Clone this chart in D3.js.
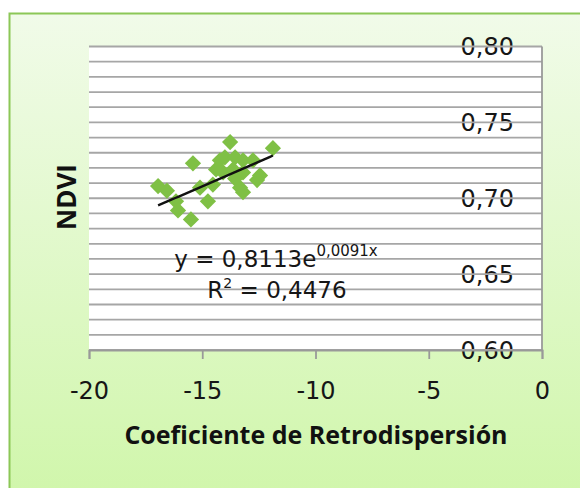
<!DOCTYPE html>
<html>
<head>
<meta charset="utf-8">
<script src="https://cdn.jsdelivr.net/npm/d3@7"></script>
<style>
  html, body { margin: 0; padding: 0; background: #fff; }
  svg { display: block; }
</style>
</head>
<body>
<svg id="chart" width="580" height="488"></svg>
<script>
// backscatter coefficient (dB) vs NDVI
const retro = [-16.95, -16.56, -16.16, -16.07, -15.50, -15.41, -15.10, -14.75, -14.53, -14.39,
  -14.22, -14.00, -13.77, -13.55, -13.20, -12.76, -14.08, -13.64, -13.20, -13.33,
  -13.20, -12.45, -12.58, -11.88, -13.55];
const ndvi = [0.708, 0.705, 0.698, 0.692, 0.686, 0.723, 0.707, 0.698, 0.709, 0.719,
  0.725, 0.727, 0.737, 0.727, 0.725, 0.725, 0.717, 0.719, 0.717, 0.707,
  0.704, 0.715, 0.712, 0.733, 0.713];
const xTicks = [-20, -15, -10, -5, 0];
const yTicks = [0.60, 0.65, 0.70, 0.75, 0.80];
// exponential trendline y = a * e^(b x)
const trendA = 0.8113;
const trendB = 0.0091;
const r2 = '0,4476';

const svg = d3.select('#chart');
const margin = { left: 89, right: 38, top: 46.5, bottom: 138 };
const W = 580, H = 488;
const font = 'DejaVu Sans, sans-serif';

// background frame
const defs = svg.append('defs');
const grad = defs.append('linearGradient').attr('id', 'bg').attr('x1', 0).attr('y1', 0).attr('x2', 0).attr('y2', 1);
grad.append('stop').attr('offset', '0%').attr('stop-color', '#f1fbe9');
grad.append('stop').attr('offset', '100%').attr('stop-color', '#cff6a9');
svg.append('rect')
  .attr('x', 9.5).attr('y', 13.5).attr('width', 600).attr('height', 500)
  .attr('fill', 'url(#bg)')
  .attr('stroke', '#8cc757').attr('stroke-width', 2);

const x = d3.scaleLinear().domain([-20, 0]).range([margin.left, W - margin.right]);
const y = d3.scaleLinear().domain([0.6, 0.8]).range([H - margin.bottom, margin.top]);

// plot area
svg.append('rect')
  .attr('x', x(-20)).attr('y', y(0.8))
  .attr('width', x(0) - x(-20)).attr('height', y(0.6) - y(0.8))
  .attr('fill', '#fff');

// y labels sit on the gridlines, lines run across them
const yLabels = svg.append('g').attr('class', 'axis axis--y');
yLabels.selectAll('text')
  .data(yTicks)
  .enter().append('text')
  .attr('x', x(0) - 28)
  .attr('y', d => y(d))
  .attr('dy', '0.36em')
  .attr('text-anchor', 'end')
  .style('font-family', font)
  .style('font-size', '24px')
  .attr('fill', '#161616')
  .text(d => d3.format('.2f')(d).replace('.', ','));

// minor gridlines every 0.01
const grid = d3.range(60, 81).map(v => v / 100);
svg.append('g').selectAll('line')
  .data(grid)
  .enter().append('line')
  .attr('x1', x(-20)).attr('x2', x(0))
  .attr('y1', d => y(d)).attr('y2', d => y(d))
  .attr('stroke', '#a6a6a6')
  .attr('stroke-width', 1.8);

// x axis
const xAxis = svg.append('g')
  .attr('class', 'axis axis--x')
  .attr('transform', `translate(0,${y(0.6)})`)
  .call(d3.axisBottom(x).tickValues(xTicks).tickSize(9).tickPadding(23).tickFormat(d3.format('d')));
xAxis.select('.domain').attr('stroke', '#999').attr('stroke-width', 1.8);
xAxis.selectAll('.tick line').attr('stroke', '#999').attr('stroke-width', 1.8);
xAxis.selectAll('.tick text')
  .style('font-family', font)
  .style('font-size', '24px')
  .attr('fill', '#161616')
  .text(d => d3.format('d')(d).replace('−', '-'));

// vertical axis line at x = 0
svg.append('line')
  .attr('x1', x(0)).attr('x2', x(0))
  .attr('y1', y(0.8)).attr('y2', y(0.6))
  .attr('stroke', '#999').attr('stroke-width', 1.8);

// trendline
const xs = d3.extent(retro);
const trend = d3.range(0, 41).map(i => {
  const xv = xs[0] + (xs[1] - xs[0]) * i / 40;
  return [xv, trendA * Math.exp(trendB * xv)];
});

// points
const pts = retro.map((v, i) => ({ x: v, y: ndvi[i] }));
svg.append('g').selectAll('path')
  .data(pts)
  .enter().append('path')
  .attr('d', d3.symbol(d3.symbolSquare, 132))
  .attr('transform', d => `translate(${x(d.x)},${y(d.y)}) rotate(45)`)
  .attr('fill', '#7fc045');

svg.append('path')
  .datum(trend)
  .attr('d', d3.line().x(d => x(d[0])).y(d => y(d[1])))
  .attr('fill', 'none')
  .attr('stroke', '#111')
  .attr('stroke-width', 2.4);

// equation labels
const eq = svg.append('text')
  .attr('x', 276).attr('y', 267)
  .attr('text-anchor', 'middle')
  .style('font-family', font)
  .style('font-size', '23px')
  .attr('fill', '#161616');
eq.append('tspan').text(`y = ${String(trendA).replace('.', ',')}e`);
eq.append('tspan').attr('dy', -11).style('font-size', '15px').text(`${String(trendB).replace('.', ',')}x`);

const r2t = svg.append('text')
  .attr('x', 277).attr('y', 298)
  .attr('text-anchor', 'middle')
  .style('font-family', font)
  .style('font-size', '23px')
  .attr('fill', '#161616');
r2t.append('tspan').text('R');
r2t.append('tspan').attr('dy', -10).style('font-size', '14px').text('2');
r2t.append('tspan').attr('dy', 10).text(` = ${r2}`);

// axis titles
svg.append('text')
  .attr('x', 316).attr('y', 444)
  .attr('text-anchor', 'middle')
  .style('font-family', 'Open Sans, sans-serif')
  .style('font-size', '25px')
  .style('font-weight', 'bold')
  .attr('fill', '#111')
  .text('Coeficiente de Retrodispersión');

svg.append('text')
  .attr('transform', 'translate(76,197) rotate(-90)')
  .attr('text-anchor', 'middle')
  .style('font-family', 'Open Sans, sans-serif')
  .style('font-size', '26px')
  .style('font-weight', 'bold')
  .attr('fill', '#111')
  .text('NDVI');
</script>
</body>
</html>
